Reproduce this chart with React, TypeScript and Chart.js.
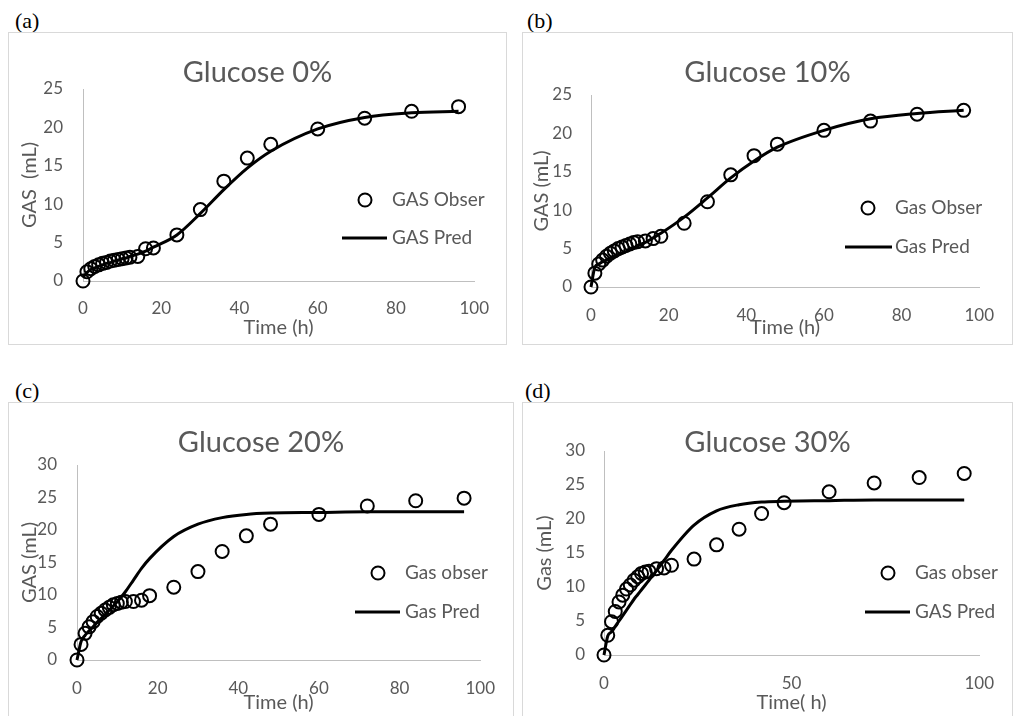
import React, { useEffect, useRef } from 'react';
import { Chart, registerables } from 'chart.js';

Chart.register(...registerables);

// ---------------- data ----------------
const timeObs = [0, 1, 2, 3, 4, 5, 6, 7, 8, 9, 10, 11, 12, 14, 16, 18, 24, 30, 36, 42, 48, 60, 72, 84, 96];

const obsA = [0, 1.2, 1.6, 1.9, 2.1, 2.3, 2.4, 2.6, 2.7, 2.8, 2.9, 3.0, 3.1, 3.2, 4.2, 4.3, 6.0, 9.3, 13.0, 16.0, 17.8, 19.8, 21.2, 22.1, 22.7];
const predA = [0.5, 1.1, 1.5, 1.7, 1.9, 2.1, 2.3, 2.4, 2.6, 2.7, 2.9, 3.0, 3.2, 3.5, 3.9, 4.4, 6.0, 8.8, 11.9, 14.7, 16.9, 19.8, 21.3, 21.9, 22.1];

const obsB = [0, 1.8, 3.0, 3.5, 4.0, 4.4, 4.7, 5.0, 5.2, 5.4, 5.6, 5.8, 5.9, 6.0, 6.3, 6.6, 8.3, 11.1, 14.6, 17.1, 18.6, 20.4, 21.6, 22.5, 23.0];
const predB = [0, 2.6, 3.0, 3.3, 3.5, 3.8, 4.0, 4.2, 4.4, 4.6, 4.9, 5.1, 5.4, 5.8, 6.4, 7.0, 9.1, 11.6, 14.2, 16.4, 18.2, 20.4, 21.9, 22.6, 23.0];

const obsC = [0, 2.4, 4.1, 5.1, 5.9, 6.7, 7.2, 7.7, 8.1, 8.5, 8.7, 8.9, 9.0, 9.0, 9.2, 9.9, 11.2, 13.6, 16.7, 19.1, 20.9, 22.4, 23.7, 24.5, 24.9];
const predC = [0, 2.8, 3.8, 4.5, 5.1, 5.8, 6.4, 7.0, 7.7, 8.3, 9.0, 9.7, 10.5, 12.3, 14.1, 15.6, 19.0, 20.9, 21.9, 22.4, 22.6, 22.7, 22.8, 22.8, 22.8];

const obsD = [0, 2.9, 4.9, 6.4, 7.8, 8.8, 9.7, 10.3, 11.0, 11.5, 12.0, 12.2, 12.3, 12.7, 12.8, 13.2, 14.1, 16.2, 18.5, 20.8, 22.4, 24.0, 25.3, 26.1, 26.7];
const predD = [0, 2.8, 3.4, 4.2, 5.0, 5.8, 6.6, 7.4, 8.2, 8.9, 9.6, 10.3, 11.0, 12.4, 13.9, 15.4, 19.1, 21.2, 22.1, 22.5, 22.6, 22.7, 22.8, 22.8, 22.8];

const titles = ['Glucose 0%', 'Glucose 10%', 'Glucose 20%', 'Glucose 30%'];
const obsNames = ['GAS Obser', 'Gas Obser', 'Gas obser', 'Gas obser'];
const predNames = ['GAS Pred', 'Gas Pred', 'Gas Pred', 'GAS Pred'];
const xTitles = ['Time (h)', 'Time (h)', 'Time (h)', 'Time( h)'];
const yTitles = ['GAS  (mL)', 'GAS (mL)', 'GAS (mL)', 'Gas (mL)'];
const panelLabels = ['(a)', '(b)', '(c)', '(d)'];
const xMax = [100, 100, 100, 100];
const xStep = [20, 20, 20, 50];
const yMax = [25, 25, 30, 30];
const yStep = [5, 5, 5, 5];

// ---------------- layout (positions / styles) ----------------
const TEXT = '#595959';
const FONT = 'Lato, "Open Sans", sans-serif';

type Layout = {
  box: { left: number; top: number; width: number; height: number };
  cw: number; ch: number;
  area: { left: number; right: number; top: number; bottom: number };
  xTickPad: number; yTickPad: number; xTitlePad: number; yTitlePad: number;
  legend: { cx: number; cy: number; tx: number; lx1: number; lx2: number; ly: number };
  labelPos: { left: number; top: number };
};

const layouts: Layout[] = [
  {
    box: { left: 8, top: 32, width: 499, height: 313 }, cw: 497, ch: 311,
    area: { left: 74, right: 468, top: 56, bottom: 248 },
    xTickPad: 17, yTickPad: 20, xTitlePad: 4, yTitlePad: 9,
    legend: { cx: 356, cy: 167, tx: 383, lx1: 333, lx2: 378, ly: 205 },
    labelPos: { left: 15, top: 10 },
  },
  {
    box: { left: 522, top: 32, width: 491, height: 313 }, cw: 489, ch: 311,
    area: { left: 68, right: 460, top: 62, bottom: 254 },
    xTickPad: 18, yTickPad: 19, xTitlePad: 4, yTitlePad: 7,
    legend: { cx: 345, cy: 175, tx: 372, lx1: 322, lx2: 369, ly: 214 },
    labelPos: { left: 527, top: 10 },
  },
  {
    box: { left: 8, top: 402, width: 506, height: 330 }, cw: 504, ch: 313,
    area: { left: 68, right: 474, top: 62, bottom: 257 },
    xTickPad: 18, yTickPad: 20, xTitlePad: 1, yTitlePad: 9,
    legend: { cx: 369, cy: 170, tx: 396, lx1: 346, lx2: 391, ly: 209 },
    labelPos: { left: 15, top: 380 },
  },
  {
    box: { left: 522, top: 402, width: 491, height: 330 }, cw: 489, ch: 313,
    area: { left: 81, right: 469, top: 48, bottom: 252 },
    xTickPad: 18, yTickPad: 19, xTitlePad: 1, yTitlePad: 10,
    legend: { cx: 365, cy: 170, tx: 392, lx1: 342, lx2: 387, ly: 209 },
    labelPos: { left: 525, top: 380 },
  },
];

const obsSets = [obsA, obsB, obsC, obsD];
const predSets = [predA, predB, predC, predD];

const overlayPlugin = {
  id: 'overlay',
  afterDraw(chart: any, _args: any, opts: any) {
    const ctx = chart.ctx;
    ctx.save();
    // title
    ctx.fillStyle = TEXT;
    ctx.font = `29px ${FONT}`;
    ctx.textAlign = 'center';
    ctx.textBaseline = 'alphabetic';
    ctx.fillText(opts.title, chart.width / 2, 49);
    // legend
    const lg = opts.legend;
    ctx.beginPath();
    ctx.arc(lg.cx, lg.cy, 6.5, 0, Math.PI * 2);
    ctx.strokeStyle = '#000';
    ctx.lineWidth = 2;
    ctx.stroke();
    ctx.beginPath();
    ctx.moveTo(lg.lx1, lg.ly);
    ctx.lineTo(lg.lx2, lg.ly);
    ctx.lineWidth = 3;
    ctx.stroke();
    ctx.font = `19px ${FONT}`;
    ctx.textAlign = 'left';
    ctx.textBaseline = 'middle';
    ctx.fillStyle = TEXT;
    ctx.fillText(opts.obsName, lg.tx, lg.cy);
    ctx.fillText(opts.predName, lg.tx, lg.ly);
    ctx.restore();
  },
};

function Panel({ i }: { i: number }) {
  const ref = useRef<HTMLCanvasElement | null>(null);
  const L = layouts[i];

  useEffect(() => {
    if (!ref.current) return;
    const obs = obsSets[i].map((v, k) => ({ x: timeObs[k], y: v }));
    const pred = predSets[i].map((v, k) => ({ x: timeObs[k], y: v }));
    const chart = new Chart(ref.current, {
      type: 'scatter',
      data: {
        datasets: [
          {
            label: obsNames[i],
            data: obs,
            showLine: false,
            pointStyle: 'circle',
            pointRadius: 6.5,
            pointBorderWidth: 2,
            pointBorderColor: '#000',
            pointBackgroundColor: 'rgba(0,0,0,0)',
            borderColor: '#000',
            backgroundColor: 'rgba(0,0,0,0)',
            clip: false,
          } as any,
          {
            label: predNames[i],
            data: pred,
            showLine: true,
            borderColor: '#000',
            borderWidth: 3,
            pointRadius: 0,
            cubicInterpolationMode: 'monotone',
            clip: false,
          } as any,
        ],
      },
      options: {
        animation: false,
        responsive: false,
        maintainAspectRatio: false,
        devicePixelRatio: 1,
        events: [],
        layout: { padding: { left: 0, right: L.cw - L.area.right, top: L.area.top, bottom: 0 } },
        plugins: {
          legend: { display: false },
          tooltip: { enabled: false },
          overlay: {
            title: titles[i],
            obsName: obsNames[i],
            predName: predNames[i],
            legend: L.legend,
          },
        } as any,
        scales: {
          x: {
            type: 'linear',
            min: 0,
            max: xMax[i],
            afterFit: (s: any) => { s.height = L.ch - L.area.bottom; },
            grid: { display: false, drawTicks: false },
            border: { display: true, color: '#bfbfbf', width: 1 },
            ticks: { stepSize: xStep[i], padding: L.xTickPad, color: TEXT, font: { family: FONT, size: 17 }, maxRotation: 0, autoSkip: false },
            title: { display: true, text: xTitles[i], color: TEXT, font: { family: FONT, size: 20 }, padding: { top: 0, bottom: L.xTitlePad } },
          },
          y: {
            type: 'linear',
            min: 0,
            max: yMax[i],
            afterFit: (s: any) => { s.width = L.area.left; },
            grid: { display: false, drawTicks: false },
            border: { display: true, color: '#bfbfbf', width: 1 },
            ticks: { stepSize: yStep[i], padding: L.yTickPad, color: TEXT, font: { family: FONT, size: 17 } },
            title: { display: true, text: yTitles[i], color: TEXT, font: { family: FONT, size: 20 }, padding: { top: L.yTitlePad, bottom: 0 } },
          },
        },
      } as any,
      plugins: [overlayPlugin as any],
    });
    return () => chart.destroy();
  }, [i]);

  return (
    <>
      <div
        style={{
          position: 'absolute',
          left: L.labelPos.left,
          top: L.labelPos.top,
          fontFamily: '"Liberation Serif", "Times New Roman", serif',
          fontSize: 22,
          lineHeight: '22px',
          color: '#000',
        }}
      >
        {panelLabels[i]}
      </div>
      <div
        style={{
          position: 'absolute',
          left: L.box.left,
          top: L.box.top,
          width: L.box.width,
          height: L.box.height,
          boxSizing: 'border-box',
          border: '1px solid #d9d9d9',
          background: '#fff',
        }}
      >
        <canvas ref={ref} width={L.cw} height={L.ch} style={{ position: 'absolute', left: 0, top: 0, display: 'block' }} />
      </div>
    </>
  );
}

export default function App() {
  return (
    <div style={{ position: 'absolute', left: 0, top: 0, width: 1013, height: 716, overflow: 'hidden', background: '#fff' }}>
      {[0, 1, 2, 3].map((i) => (
        <Panel key={i} i={i} />
      ))}
    </div>
  );
}
